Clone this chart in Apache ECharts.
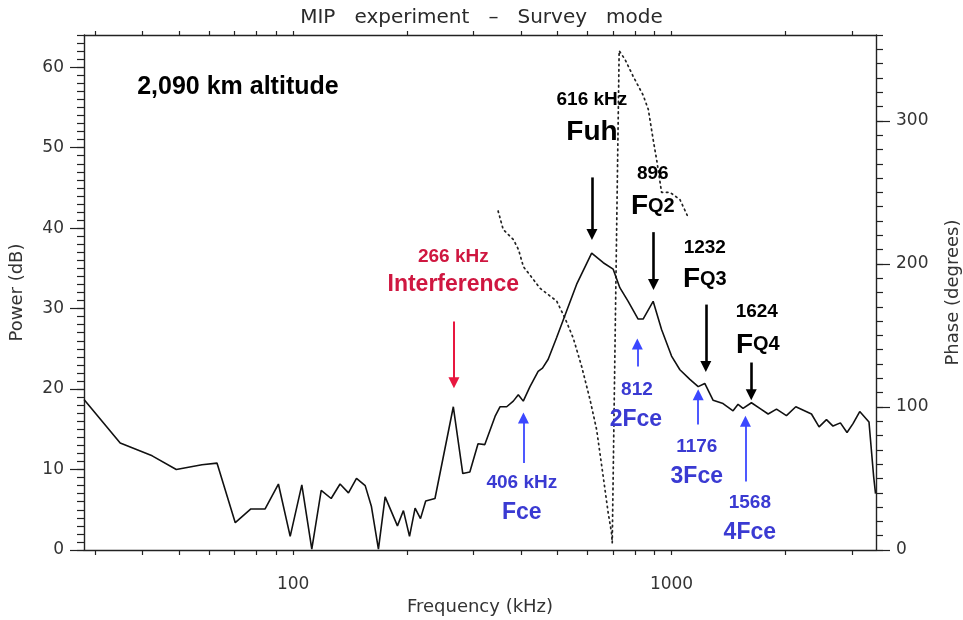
<!DOCTYPE html>
<html>
<head>
<meta charset="utf-8">
<title>MIP experiment - Survey mode</title>
<script src="https://cdn.jsdelivr.net/npm/echarts@6/dist/echarts.min.js"></script>
<style>
  html, body { margin: 0; padding: 0; background: #fff; }
  #chart { width: 963px; height: 620px; }
</style>
</head>
<body>
<div id="chart"></div>
<script>
// power spectrum, solid line (kHz / dB)
var powerFreq = [28, 34.9, 42.4, 49.1, 57.4, 62.9, 70.3, 77.3, 84.3, 91.4, 98.2, 105.4, 112, 118.6, 126, 133, 140, 147, 155, 161, 168, 175, 188.6, 195.6, 203, 210, 217, 224, 237, 265, 280.7, 293, 308, 321, 341.6, 352, 366.7, 381.7, 393.5, 405.6, 422.5, 444, 456, 472, 497, 528, 561, 615, 660, 701, 730, 768, 816, 841, 894, 941, 1000, 1052, 1118, 1176, 1224, 1288, 1368, 1454, 1499, 1545, 1626, 1711, 1800, 1894, 2012, 2130, 2343, 2454, 2567, 2671, 2794, 2909, 3017, 3143, 3325, 3421, 3460]
var powerDb = [18.7, 13.3, 11.7, 10.0, 10.6, 10.8, 3.4, 5.1, 5.1, 8.2, 1.7, 8.1, 0.1, 7.4, 6.4, 8.2, 7.1, 8.9, 8.0, 5.4, 0.1, 6.6, 3.0, 4.9, 1.7, 5.2, 3.9, 6.1, 6.4, 17.8, 9.5, 9.7, 13.2, 13.1, 16.6, 17.8, 17.8, 18.5, 19.3, 18.5, 20.3, 22.2, 22.6, 23.7, 26.4, 29.7, 33.0, 36.9, 35.7, 34.9, 32.6, 30.9, 28.7, 28.7, 30.9, 27.4, 24.1, 22.4, 21.2, 20.3, 20.7, 18.6, 18.2, 17.3, 18.1, 17.6, 18.3, 17.6, 16.9, 17.5, 16.7, 17.8, 16.9, 15.3, 16.2, 15.4, 15.8, 14.6, 15.7, 17.2, 15.9, 9.1, 7.0]

// phase, dotted line (kHz / degrees)
var phaseFreq = [348, 359, 382, 394, 406, 423, 449, 497, 523, 550, 579, 609, 634, 660, 680, 694, 697, 727, 753, 792, 841, 868, 894, 913, 941, 990, 1052, 1100]
var phaseDeg = [237, 224, 217, 210, 198, 192, 183, 174, 162, 148, 128, 105, 84, 51, 26, 12, 5, 349, 343, 331, 318, 308, 287, 273, 250, 250, 245, 234]

// ticks
var freqTicks = [30, 40, 50, 60, 70, 80, 90, 100, 200, 300, 400, 500, 600, 700, 800, 900, 1000, 2000, 3000]
var freqLabels = [100, 1000]
var powerLabels = [0, 10, 20, 30, 40, 50, 60]
var phaseLabels = [0, 100, 200, 300]

var FONT = 'DejaVu Sans'
var BOLD = 'Liberation Sans'
var RED = '#cf1740'
var BLUE = '#3a3ad2'

// arrows: kHz, from dB, to dB, colour, width
var arrows = [
  [266, 28.4, 20.8, '#e8173f', 2],
  [616, 46.3, 39.2, '#000', 2.6],
  [896, 39.5, 33.0, '#000', 2.6],
  [1232, 30.5, 22.8, '#000', 2.6],
  [1624, 23.3, 19.3, '#000', 2.6],
  [406, 10.8, 16.4, '#3b47ff', 1.8],
  [812, 22.8, 25.6, '#3b47ff', 1.8],
  [1176, 15.6, 19.3, '#3b47ff', 1.8],
  [1568, 8.5, 16.0, '#3b47ff', 1.8]
]

// text notes: kHz, dB, text, style
var notes = [
  [38.7, 57.5, '2,090 km altitude', 'alt'],
  [265, 36.5, '266 kHz', 'redNum'],
  [265, 33.0, 'Interference', 'redName'],
  [616, 55.9, '616 kHz', 'num'],
  [616, 51.9, 'Fuh', 'name'],
  [892, 46.7, '896', 'num'],
  [892, 42.7, '{f|F}{q|Q2}', 'name'],
  [1224, 37.6, '1232', 'num'],
  [1224, 33.6, '{f|F}{q|Q3}', 'name'],
  [1680, 29.6, '1624', 'num'],
  [1690, 25.5, '{f|F}{q|Q4}', 'name'],
  [402, 8.3, '406 kHz', 'blueNum'],
  [402, 4.7, 'Fce', 'blueName'],
  [810, 19.9, '812', 'blueNum'],
  [805, 16.2, '2Fce', 'blueName'],
  [1166, 12.8, '1176', 'blueNum'],
  [1166, 9.1, '3Fce', 'blueName'],
  [1610, 5.9, '1568', 'blueNum'],
  [1610, 2.1, '4Fce', 'blueName']
]

var noteStyles = {
  alt: { fontSize: 25, color: '#000', align: 'left' },
  redNum: { fontSize: 19, color: RED },
  redName: { fontSize: 23, color: RED },
  num: { fontSize: 19, color: '#000' },
  name: { fontSize: 28, color: '#000' },
  blueNum: { fontSize: 19, color: BLUE },
  blueName: { fontSize: 23, color: BLUE }
}

function lg(v) { return Math.log10(v) }
function pairs(xs, ys) { return xs.map(function(x, i) { return [lg(x), ys[i]] }) }
function range(a, b, step) {
  var out = []
  for (var v = a; v <= b; v += step) out.push(v)
  return out
}

var axisColor = '#222'
var labelStyle = { fontFamily: FONT, fontSize: 17, color: '#333' }
var nameStyle = { fontFamily: FONT, fontSize: 18, color: '#333' }
var xMin = lg(28)
var xMax = lg(3470)

function xAxisOf(pos, withLabels) {
  return {
    type: 'value',
    position: pos,
    min: xMin,
    max: xMax,
    axisLine: { show: true, onZero: false, lineStyle: { color: axisColor, width: 1.4 }},
    axisTick: { show: true, customValues: freqTicks.map(lg), length: pos === 'top' ? 4 : 5, lineStyle: { color: axisColor, width: 1.2 }},
    axisLabel: withLabels ? Object.assign({
      customValues: freqLabels.map(lg),
      margin: 26,
      formatter: function(v) { return Math.round(Math.pow(10, v)) }
    }, labelStyle) : { show: false },
    splitLine: { show: false }
  }
}

function yAxisOf(pos, max, ticks, len, labels) {
  return {
    type: 'value',
    position: pos,
    min: 0,
    max: max,
    axisLine: { show: !!labels, onZero: false, lineStyle: { color: axisColor, width: 1.4 }},
    axisTick: { show: true, customValues: ticks, length: len, lineStyle: { color: axisColor, width: 1.2 }},
    axisLabel: labels ? Object.assign({ customValues: labels, margin: 20 }, labelStyle) : { show: false },
    splitLine: { show: false }
  }
}

var powerAxis = yAxisOf('left', 64, powerLabels, 14, powerLabels)
powerAxis.name = 'Power (dB)'
powerAxis.nameLocation = 'middle'
powerAxis.nameGap = 58
powerAxis.nameRotate = 90
powerAxis.nameTextStyle = nameStyle

var phaseAxis = yAxisOf('right', 360, phaseLabels, 14, phaseLabels)
phaseAxis.name = 'Phase (degrees)'
phaseAxis.nameLocation = 'middle'
phaseAxis.nameGap = 68
phaseAxis.nameRotate = 90
phaseAxis.nameTextStyle = nameStyle

var bottomAxis = xAxisOf('bottom', true)
bottomAxis.name = 'Frequency (kHz)'
bottomAxis.nameLocation = 'middle'
bottomAxis.nameGap = 48
bottomAxis.nameTextStyle = nameStyle

var chart = echarts.init(document.getElementById('chart'), null, { renderer: 'canvas' })
chart.setOption({
  animation: false,
  backgroundColor: '#fff',
  title: {
    text: 'MIP   experiment   \u2013   Survey   mode',
    left: 'center',
    top: 3,
    textStyle: { fontFamily: FONT, fontSize: 20, fontWeight: 'normal', color: '#2a2a2a' }
  },
  grid: { left: 84, right: 87, top: 35, bottom: 70, containLabel: false, outerBoundsMode: 'none' },
  xAxis: [bottomAxis, xAxisOf('top', false)],
  yAxis: [
    powerAxis,
    yAxisOf('left', 64, range(0, 64, 1), 7, null),
    phaseAxis,
    yAxisOf('right', 360, range(0, 360, 10), 7, null)
  ],
  series: [
    {
      name: 'Phase',
      type: 'line',
      xAxisIndex: 0,
      yAxisIndex: 2,
      symbol: 'none',
      data: pairs(phaseFreq, phaseDeg),
      lineStyle: { color: '#222', width: 1.7, type: [1.5, 3.8], cap: 'round' },
      z: 2
    },
    {
      name: 'Power',
      type: 'line',
      xAxisIndex: 0,
      yAxisIndex: 0,
      symbol: 'none',
      data: pairs(powerFreq, powerDb),
      lineStyle: { color: '#111', width: 1.6 },
      z: 3,
      markLine: {
        silent: true,
        symbol: ['none', 'triangle'],
        symbolSize: 11,
        label: { show: false },
        data: arrows.map(function(a) {
          return [
            { coord: [lg(a[0]), a[1]], lineStyle: { color: a[3], width: a[4], type: 'solid' }},
            { coord: [lg(a[0]), a[2]] }
          ]
        })
      },
      markPoint: {
        silent: true,
        symbol: 'circle',
        symbolSize: 1,
        itemStyle: { color: 'rgba(0,0,0,0)' },
        data: notes.map(function(n) {
          var s = noteStyles[n[3]]
          return {
            coord: [lg(n[0]), n[1]],
            label: {
              show: true,
              position: 'inside',
              formatter: n[2],
              fontFamily: BOLD,
              fontWeight: 'bold',
              fontSize: s.fontSize,
              color: s.color,
              align: s.align || 'center',
              rich: {
                f: { fontFamily: BOLD, fontWeight: 'bold', fontSize: 28, color: '#000' },
                q: { fontFamily: BOLD, fontWeight: 'bold', fontSize: 20, color: '#000' }
              }
            }
          }
        })
      }
    }
  ]
})
</script>
</body>
</html>
